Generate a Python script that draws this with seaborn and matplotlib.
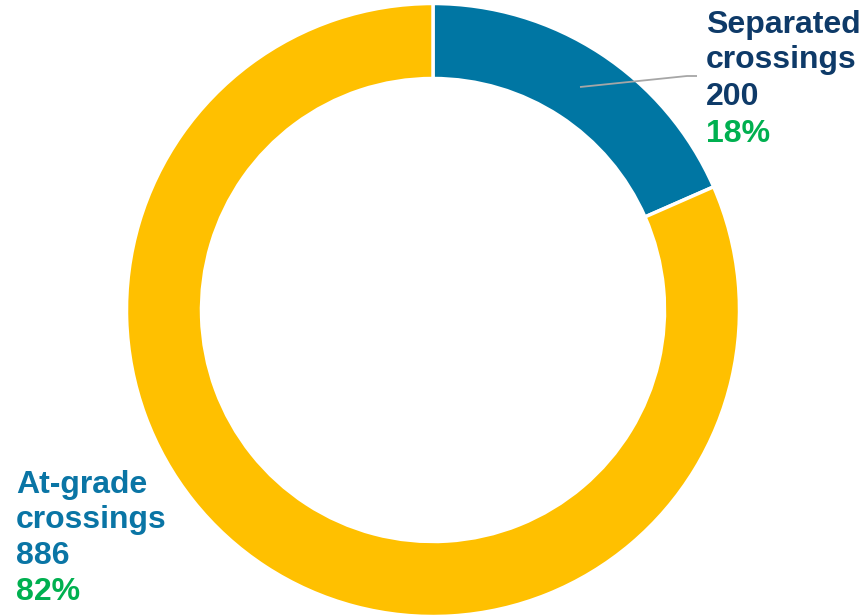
import matplotlib
matplotlib.use("Agg")
import matplotlib.pyplot as plt
import seaborn as sns

sns.set_theme(style="white")
plt.rcParams['font.family'] = ['Liberation Sans', 'DejaVu Sans']

categories = ["Separated crossings", "At-grade crossings"]
values = [200, 886]
colors = ["#0076A3", "#FFC000"]

total = sum(values)
pcts = [round(v / total * 100) for v in values]

W, H = 863, 616
fig = plt.figure(figsize=(W / 100, H / 100), dpi=100)
ax = fig.add_axes([0, 0, 1, 1])

cx, cy = 433, H - 310
ax.pie(values, colors=colors, startangle=90, counterclock=False,
       radius=306.5, center=(cx, cy),
       wedgeprops=dict(width=75, edgecolor="white", linewidth=2.5))
ax.set_xlim(0, W)
ax.set_ylim(0, H)
ax.set_aspect("equal", adjustable="box")
ax.axis("off")

fs = 23
navy = "#0E3A68"
blue = "#0A75A5"
green = "#00B050"

# Separated label
sep_lines = ["Separated", "crossings", str(values[0])]
bases = [33, 68, 105]
for t, b in zip(sep_lines, bases):
    ax.text(706, H - b, t, fontsize=fs, fontweight="bold", color=navy,
            ha="left", va="baseline")
ax.text(706, H - 142, f"{pcts[0]}%", fontsize=fs, fontweight="bold", color=green,
        ha="left", va="baseline")

# leader line
ax.plot([580, 687, 697], [H - 87, H - 76, H - 76], color="#A6A6A6", lw=1.3,
        solid_capstyle="butt")

# At-grade label
ag_lines = ["At-grade", "crossings", str(values[1])]
bases = [493, 528, 564]
for t, b in zip(ag_lines, bases):
    ax.text(16, H - b, t, fontsize=fs, fontweight="bold", color=blue,
            ha="left", va="baseline")
ax.text(16, H - 600, f"{pcts[1]}%", fontsize=fs, fontweight="bold", color=green,
        ha="left", va="baseline")

fig.savefig("out.png", dpi=100)
